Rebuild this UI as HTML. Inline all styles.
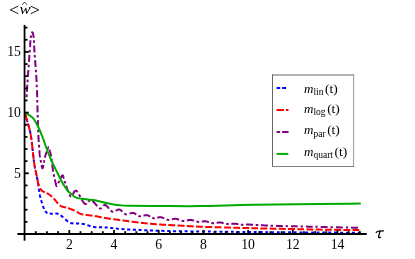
<!DOCTYPE html>
<html><head><meta charset="utf-8"><title>plot</title>
<style>
html,body{margin:0;padding:0;background:#fff;}
svg{display:block;font-family:"Liberation Serif",serif;will-change:transform;}
</style></head><body>
<svg width="415" height="259" viewBox="0 0 415 259">
<rect width="415" height="259" fill="#fff"/>
<g fill="none" stroke-width="2" stroke-linejoin="round">
<path d="M25.10,113.60 L25.10,113.62 L25.11,113.62 L25.11,113.62 L25.11,113.62 L25.10,113.60 L25.10,113.59 L25.09,113.57 L25.09,113.54 L25.08,113.52 L25.07,113.49 L25.06,113.46 L25.06,113.44 L25.05,113.41 L25.05,113.39 L25.04,113.38 L25.04,113.37 L25.04,113.36 L25.04,113.36 L25.04,113.37 L25.05,113.39 L25.06,113.42 L25.07,113.46 L25.08,113.52 L25.10,113.58 L25.12,113.66 L25.15,113.76 L25.18,113.87 L25.22,113.99 L25.26,114.14 L25.30,114.30 L25.36,114.49 L25.41,114.69 L25.48,114.92 L25.55,115.17 L25.63,115.45 L25.71,115.75 L25.81,116.08 L25.86,116.26M26.60,118.81 L26.74,119.28 L26.88,119.77 L27.02,120.26 L27.17,120.76 L27.31,121.27 L27.46,121.79 L27.51,121.96M28.23,124.49 L28.38,125.01 L28.52,125.52 L28.66,126.03 L28.80,126.53 L28.93,127.02 L29.06,127.50 L29.10,127.66M29.74,130.19 L29.83,130.54 L29.91,130.88 L29.99,131.20 L30.06,131.51 L30.13,131.80 L30.19,132.08 L30.25,132.35 L30.31,132.61 L30.37,132.87 L30.42,133.11 L30.47,133.35 L30.49,133.43M30.94,135.99 L30.98,136.28 L31.03,136.57 L31.07,136.88 L31.12,137.20 L31.17,137.54 L31.22,137.90 L31.27,138.27 L31.32,138.67 L31.38,139.09 L31.40,139.24M31.74,141.87 L31.81,142.47 L31.88,143.10 L31.96,143.75 L32.03,144.41 L32.11,145.10M32.40,147.74 L32.48,148.48 L32.57,149.23 L32.65,149.99 L32.73,150.75 L32.76,151.00M33.04,153.63 L33.12,154.37 L33.20,155.10 L33.28,155.82 L33.35,156.52 L33.39,156.86M33.68,159.44 L33.75,160.03 L33.82,160.59 L33.89,161.12 L33.95,161.61 L34.01,162.07 L34.07,162.51 L34.10,162.71M34.50,165.33 L34.54,165.57 L34.59,165.79 L34.63,166.01 L34.67,166.21 L34.71,166.41 L34.75,166.60 L34.79,166.78 L34.83,166.96 L34.87,167.13 L34.91,167.30 L34.94,167.47 L34.98,167.64 L35.02,167.81 L35.07,167.98 L35.11,168.16 L35.15,168.34 L35.19,168.53 L35.20,168.56M35.72,171.11 L35.78,171.39 L35.84,171.68 L35.90,171.97 L35.96,172.26 L36.02,172.56 L36.08,172.85 L36.14,173.15 L36.20,173.45 L36.27,173.75 L36.33,174.06 L36.39,174.36M36.91,176.89 L36.97,177.20 L37.03,177.50 L37.09,177.81 L37.15,178.12 L37.21,178.43 L37.27,178.74 L37.33,179.04 L37.38,179.35 L37.44,179.65 L37.49,179.95 L37.53,180.15M37.94,182.73 L37.99,183.04 L38.03,183.36 L38.08,183.67 L38.12,183.99 L38.17,184.30 L38.21,184.61 L38.26,184.93 L38.30,185.24 L38.34,185.55 L38.39,185.86 L38.41,186.01M38.78,188.57 L38.82,188.85 L38.86,189.12 L38.90,189.39 L38.94,189.66 L38.99,189.91 L39.03,190.17 L39.07,190.42 L39.11,190.67 L39.15,190.92 L39.19,191.16 L39.23,191.40 L39.27,191.64 L39.31,191.87M39.77,194.40 L39.81,194.61 L39.85,194.80 L39.89,195.00 L39.92,195.19 L39.96,195.38 L40.00,195.57 L40.04,195.76 L40.07,195.94 L40.11,196.12 L40.15,196.30 L40.19,196.48 L40.22,196.66 L40.26,196.83 L40.30,197.00 L40.34,197.16 L40.37,197.32 L40.40,197.47 L40.43,197.61 L40.44,197.65M41.09,200.09 L41.14,200.24 L41.19,200.40 L41.25,200.56 L41.31,200.74 L41.37,200.93 L41.44,201.13 L41.51,201.34 L41.59,201.56 L41.67,201.80 L41.75,202.06 L41.84,202.33 L41.93,202.61 L42.03,202.91 L42.12,203.21M42.93,205.72 L43.04,206.07 L43.16,206.42 L43.28,206.77 L43.40,207.12 L43.53,207.47 L43.65,207.81 L43.78,208.14 L43.90,208.47 L44.03,208.79M45.17,211.11 L45.30,211.30 L45.43,211.48 L45.56,211.65 L45.70,211.80 L45.83,211.95 L45.96,212.08 L46.09,212.21 L46.23,212.32 L46.36,212.43 L46.50,212.53 L46.63,212.62 L46.77,212.71 L46.91,212.78 L47.05,212.85 L47.19,212.92 L47.33,212.98 L47.47,213.03 L47.52,213.05M49.75,213.50 L49.93,213.53 L50.11,213.56 L50.30,213.60 L50.49,213.63 L50.69,213.66 L50.89,213.69 L51.10,213.70 L51.31,213.72 L51.53,213.72 L51.75,213.73 L51.98,213.73 L52.21,213.73 L52.44,213.72 L52.68,213.71 L52.80,213.71M55.34,213.59 L55.58,213.59 L55.81,213.59 L56.04,213.59 L56.27,213.59 L56.49,213.61 L56.71,213.62 L56.93,213.64 L57.14,213.67 L57.34,213.70 L57.54,213.74 L57.74,213.78 L57.92,213.83 L58.11,213.89 L58.28,213.95 L58.46,214.01 L58.49,214.03M60.64,215.27 L60.77,215.38 L60.91,215.48 L61.05,215.59 L61.19,215.70 L61.33,215.81 L61.46,215.92 L61.60,216.04 L61.74,216.15 L61.88,216.27 L62.02,216.38 L62.16,216.50 L62.31,216.61 L62.45,216.73 L62.60,216.85 L62.75,216.96 L62.90,217.08 L63.06,217.20 L63.21,217.32 L63.29,217.39M65.33,219.22 L65.50,219.37 L65.66,219.52 L65.82,219.67 L65.97,219.81 L66.13,219.96 L66.28,220.10 L66.44,220.25 L66.59,220.38 L66.74,220.52 L66.89,220.65 L67.03,220.78 L67.17,220.90 L67.31,221.02 L67.45,221.14 L67.58,221.25 L67.71,221.35 L67.84,221.45 L67.96,221.55 L67.98,221.56M70.22,223.06 L70.39,223.09 L70.58,223.13 L70.78,223.16 L71.00,223.20 L71.24,223.24 L71.49,223.27 L71.76,223.30 L72.05,223.32 L72.35,223.35 L72.66,223.37 L72.99,223.39 L73.33,223.41 L73.56,223.42M76.02,223.50 L76.42,223.51 L76.82,223.53 L77.23,223.54 L77.64,223.55 L78.05,223.57 L78.47,223.58 L78.88,223.60 L79.15,223.62M81.74,223.81 L82.12,223.85 L82.49,223.90 L82.85,223.95 L83.20,224.00 L83.54,224.06 L83.88,224.13 L84.22,224.20 L84.55,224.27 L84.88,224.35 L84.94,224.37M87.39,225.11 L87.70,225.21 L88.01,225.32 L88.33,225.43 L88.64,225.54 L88.95,225.64 L89.27,225.75 L89.58,225.86 L89.89,225.96 L90.21,226.06 L90.53,226.16 L90.58,226.18M93.14,226.85 L93.48,226.91 L93.83,226.97 L94.17,227.03 L94.52,227.07 L94.87,227.11 L95.21,227.15 L95.55,227.18 L95.89,227.21 L96.24,227.24 L96.41,227.25M99.00,227.33 L99.36,227.33 L99.72,227.33 L100.07,227.33 L100.44,227.33 L100.80,227.33 L101.17,227.33 L101.55,227.34 L101.93,227.34 L102.18,227.34M104.66,227.40 L105.08,227.42 L105.52,227.44 L105.95,227.47 L106.40,227.50 L106.85,227.53 L107.29,227.57 L107.72,227.61M110.22,227.87 L110.65,227.92 L111.08,227.97 L111.52,228.02 L111.96,228.07 L112.41,228.13 L112.86,228.18 L113.33,228.23M115.82,228.52 L116.36,228.57 L116.92,228.63 L117.49,228.69 L118.08,228.74 L118.69,228.80 L118.90,228.82M121.47,229.03 L122.20,229.08 L122.95,229.13 L123.73,229.18 L124.54,229.23M127.14,229.39 L128.05,229.44 L128.99,229.49 L129.96,229.54 L130.28,229.56M132.80,229.69 L133.84,229.74 L134.90,229.79 L135.98,229.85M138.54,229.97 L139.66,230.02 L140.79,230.07 L141.55,230.10M144.24,230.22 L145.40,230.27 L146.57,230.32 L147.35,230.35M149.90,230.45 L151.07,230.50 L152.25,230.54 L153.03,230.57M155.57,230.66 L156.74,230.70 L157.90,230.73 L158.66,230.76M161.31,230.84 L162.42,230.87 L163.50,230.90 L164.57,230.93M167.18,231.00 L168.21,231.02 L169.24,231.05 L170.26,231.07M173.00,231.13 L174.03,231.14 L175.08,231.16 L176.13,231.18M178.84,231.23 L179.96,231.24 L181.10,231.26 L181.87,231.27M184.68,231.31 L185.93,231.33 L187.23,231.34 L187.67,231.35M190.39,231.38 L191.82,231.40 L193.30,231.42 L193.55,231.42M196.13,231.45 L197.75,231.47 L199.14,231.49M202.05,231.52 L203.88,231.55 L205.13,231.56M208.03,231.59 L210.02,231.61 L210.70,231.62M213.81,231.65 L215.93,231.68 L216.65,231.68M219.56,231.71 L221.78,231.73 L222.53,231.74M225.18,231.77 L227.48,231.79 L228.25,231.80M230.98,231.82 L233.33,231.84 L233.73,231.85M236.90,231.88 L239.30,231.90 L239.70,231.90M242.51,231.93 L244.93,231.95 L245.34,231.95M248.16,231.98 L250.59,232.00 L250.99,232.00M253.82,232.03 L256.23,232.05 L256.64,232.05M259.44,232.07 L261.83,232.09 L262.62,232.10M265.39,232.12 L267.73,232.14 L268.12,232.14M271.21,232.17 L273.49,232.19 L273.87,232.19M276.89,232.21 L279.22,232.23 L279.61,232.24M282.39,232.26 L284.82,232.27 L285.23,232.28M288.12,232.30 L290.62,232.32 L291.04,232.32M294.00,232.34 L296.56,232.36M299.55,232.38 L302.13,232.39 L302.56,232.40M305.13,232.41 L307.70,232.43 L308.13,232.43M311.11,232.45 L313.65,232.47 L314.07,232.47M316.57,232.49 L319.05,232.50 L319.46,232.51M322.30,232.52 L324.69,232.54 L325.48,232.54M328.19,232.56 L330.45,232.57 L331.19,232.58M334.09,232.60 L336.18,232.61 L337.20,232.62M340.13,232.63 L341.98,232.65 L343.17,232.65M345.94,232.67 L347.48,232.68 L348.90,232.69 L349.13,232.69M351.79,232.71 L352.85,232.72 L353.82,232.73 L354.69,232.73 L354.96,232.74M357.68,232.76 L358.11,232.76 L358.48,232.77 L358.79,232.77 L359.05,232.77 L359.25,232.78 L359.42,232.78 L359.54,232.78 L359.63,232.78 L359.68,232.78 L359.71,232.79 L359.71,232.79 L359.70,232.79 L359.68,232.79 L359.64,232.79 L359.60,232.79 L359.56,232.79 L359.53,232.79 L359.50,232.79 L359.49,232.79 L359.49,232.80 L359.52,232.80 L359.57,232.80 L359.66,232.80 L359.78,232.80 L359.80,232.80" stroke="#0000ff"/>
<path d="M25.18,113.85 L25.21,113.97 L25.25,114.11 L25.30,114.27 L25.35,114.45 L25.40,114.66 L25.47,114.88 L25.54,115.13 L25.61,115.40 L25.70,115.70 L25.79,116.03 L25.89,116.38 L26.00,116.75 L26.12,117.14 L26.24,117.55 L26.36,117.98 L26.49,118.43 L26.62,118.89 L26.76,119.36 L26.90,119.85 L27.05,120.34 L27.19,120.85 L27.22,120.93M27.91,123.36 L28.06,123.88 L28.21,124.40 L28.35,124.92 L28.50,125.44 L28.64,125.95 L28.78,126.45 L28.91,126.94 L29.04,127.42 L29.16,127.89 L29.28,128.35 L29.40,128.79 L29.51,129.21 L29.61,129.61 L29.70,130.00 L29.79,130.37 L29.86,130.66M30.39,132.99 L30.45,133.23 L30.50,133.47 L30.54,133.71 L30.59,133.94 L30.63,134.17 L30.68,134.41 L30.72,134.64 L30.76,134.88 L30.80,135.13 L30.84,135.38 L30.89,135.63 L30.93,135.90 L30.97,136.18 L31.01,136.47 L31.06,136.77 L31.10,137.09 L31.15,137.43 L31.20,137.78 L31.25,138.15 L31.30,138.54 L31.36,138.95 L31.42,139.38 L31.48,139.84 L31.52,140.16M31.81,142.47 L31.88,143.10 L31.96,143.75 L32.03,144.41 L32.11,145.10 L32.19,145.80 L32.27,146.52 L32.35,147.25 L32.43,147.99 L32.51,148.73 L32.59,149.49 L32.61,149.61M32.88,152.13 L32.96,152.89 L33.04,153.63 L33.12,154.37 L33.20,155.10 L33.28,155.82 L33.35,156.52 L33.43,157.20 L33.50,157.87 L33.58,158.52 L33.65,159.14M33.90,161.20 L33.96,161.69 L34.02,162.15 L34.08,162.57 L34.13,162.97 L34.18,163.34 L34.23,163.69 L34.28,164.01 L34.33,164.31 L34.37,164.59 L34.41,164.85 L34.45,165.09 L34.49,165.32 L34.53,165.54 L34.57,165.74 L34.60,165.93 L34.64,166.11 L34.68,166.29 L34.71,166.46 L34.75,166.62 L34.79,166.78 L34.82,166.95 L34.86,167.11 L34.90,167.27 L34.94,167.44 L34.97,167.59M35.43,169.63 L35.49,169.95 L35.56,170.28 L35.63,170.63 L35.70,170.99 L35.77,171.37 L35.85,171.77 L35.93,172.17 L36.01,172.59 L36.09,173.02 L36.18,173.45 L36.27,173.89 L36.35,174.34 L36.44,174.80 L36.53,175.26 L36.62,175.72 L36.72,176.19 L36.81,176.66M37.33,179.19 L37.42,179.63 L37.52,180.07 L37.61,180.50 L37.70,180.92 L37.79,181.33 L37.88,181.73 L37.97,182.11 L38.06,182.48 L38.15,182.84 L38.23,183.18 L38.32,183.50 L38.40,183.80 L38.48,184.09 L38.56,184.36 L38.64,184.63 L38.72,184.89 L38.80,185.13 L38.88,185.37 L38.96,185.60 L39.04,185.81 L39.12,186.03 L39.20,186.23M40.12,188.18 L40.19,188.31 L40.27,188.44 L40.34,188.56 L40.41,188.68 L40.48,188.80 L40.55,188.91 L40.62,189.03 L40.69,189.14 L40.76,189.26 L40.82,189.37 L40.89,189.48 L40.95,189.59 L41.01,189.69 L41.07,189.79 L41.12,189.88 L41.17,189.96 L41.21,190.03 L41.26,190.10 L41.30,190.16 L41.34,190.22 L41.37,190.28 L41.41,190.33 L41.44,190.37 L41.48,190.42 L41.51,190.46 L41.55,190.50 L41.59,190.53 L41.63,190.57 L41.67,190.60 L41.71,190.64 L41.75,190.67 L41.80,190.70 L41.85,190.73 L41.90,190.77 L41.96,190.81 L42.03,190.84 L42.09,190.88 L42.17,190.93 L42.25,190.97 L42.33,191.02 L42.42,191.08 L42.52,191.13 L42.63,191.20 L42.74,191.26 L42.86,191.34 L42.99,191.41 L43.13,191.49 L43.28,191.56 L43.43,191.64 L43.59,191.72 L43.76,191.80 L43.93,191.88 L44.11,191.97 L44.29,192.05 L44.48,192.14 L44.67,192.22 L44.83,192.30M46.64,193.12 L46.85,193.22 L47.06,193.32 L47.26,193.42 L47.47,193.52 L47.67,193.62 L47.87,193.73 L48.06,193.83 L48.25,193.94 L48.44,194.05 L48.62,194.16 L48.80,194.27 L48.97,194.38 L49.14,194.49 L49.30,194.61 L49.46,194.72 L49.62,194.83 L49.78,194.95 L49.93,195.06 L50.08,195.18 L50.23,195.29 L50.38,195.41 L50.52,195.53 L50.67,195.64 L50.81,195.76 L50.95,195.89 L51.09,196.01 L51.24,196.13 L51.38,196.26 L51.52,196.38 L51.66,196.51 L51.80,196.64 L51.94,196.78 L52.04,196.86M53.64,198.44 L53.80,198.60 L53.97,198.77 L54.14,198.94 L54.31,199.12 L54.48,199.31 L54.66,199.51 L54.83,199.71 L55.01,199.92 L55.19,200.13 L55.36,200.35 L55.54,200.57 L55.72,200.79 L55.90,201.02 L56.09,201.25 L56.27,201.48 L56.46,201.72 L56.64,201.95 L56.83,202.19 L57.02,202.42 L57.21,202.65 L57.40,202.88 L57.59,203.11 L57.79,203.34 L57.98,203.56 L58.11,203.71M59.71,205.27 L59.92,205.43 L60.13,205.58 L60.33,205.72 L60.54,205.86 L60.76,205.98 L60.97,206.09 L61.19,206.20 L61.41,206.30 L61.63,206.40 L61.85,206.49 L62.07,206.57 L62.30,206.65 L62.53,206.72 L62.75,206.79 L62.98,206.85 L63.21,206.91 L63.44,206.96 L63.68,207.02 L63.91,207.07 L64.14,207.12 L64.38,207.17 L64.61,207.21 L64.84,207.26 L65.08,207.30 L65.31,207.35 L65.55,207.40 L65.78,207.44 L66.02,207.49M68.09,208.07 L68.32,208.15 L68.55,208.23 L68.77,208.31 L69.00,208.40 L69.23,208.48 L69.47,208.57 L69.70,208.65 L69.93,208.74 L70.16,208.83 L70.39,208.92 L70.62,209.01 L70.85,209.09 L71.09,209.19 L71.32,209.28 L71.55,209.37 L71.78,209.46 L72.00,209.55 L72.23,209.64 L72.46,209.74 L72.69,209.83 L72.91,209.92 L73.14,210.02 L73.36,210.11 L73.58,210.20 L73.80,210.30 L74.02,210.39 L74.24,210.49 L74.45,210.58 L74.67,210.67M76.82,211.77 L76.98,211.87 L77.13,211.98 L77.29,212.08 L77.45,212.18 L77.60,212.29 L77.75,212.39 L77.91,212.49 L78.06,212.60 L78.22,212.70 L78.38,212.80 L78.54,212.90 L78.71,213.00 L78.88,213.10 L79.05,213.20 L79.23,213.30 L79.42,213.39 L79.61,213.49 L79.81,213.58 L80.02,213.67 L80.24,213.76 L80.46,213.84 L80.69,213.93 L80.94,214.01 L81.20,214.09 L81.46,214.16 L81.74,214.24 L82.03,214.31 L82.33,214.37 L82.64,214.44 L82.96,214.50 L83.29,214.56 L83.34,214.57M85.61,214.90 L85.99,214.94 L86.37,214.99 L86.76,215.03 L87.15,215.08 L87.54,215.12 L87.94,215.16 L88.34,215.21 L88.74,215.25 L89.14,215.29 L89.55,215.33 L89.95,215.38 L90.35,215.42 L90.75,215.47 L91.15,215.51 L91.55,215.56 L91.95,215.61 L92.34,215.66 L92.47,215.68M94.74,216.02 L95.11,216.09 L95.48,216.15 L95.85,216.22 L96.21,216.28 L96.58,216.35 L96.94,216.42 L97.31,216.49 L97.67,216.56 L98.04,216.63 L98.40,216.70 L98.77,216.77 L99.13,216.84 L99.50,216.92 L99.86,216.99 L100.23,217.06 L100.60,217.13 L100.96,217.21 L101.33,217.28 L101.70,217.35M103.95,217.78 L104.33,217.85 L104.71,217.92 L105.10,217.98 L105.49,218.05 L105.88,218.11 L106.27,218.18 L106.66,218.24 L107.06,218.30 L107.45,218.36 L107.84,218.42 L108.23,218.48 L108.61,218.54 L109.00,218.60 L109.39,218.65 L109.78,218.71 L110.17,218.76 L110.56,218.82 L110.95,218.87 L111.02,218.88M113.27,219.18 L113.68,219.24 L114.09,219.29 L114.51,219.34 L114.93,219.40 L115.35,219.45 L115.78,219.51 L116.21,219.56 L116.65,219.62 L117.10,219.68 L117.54,219.74 L118.00,219.80 L118.46,219.86 L118.93,219.92 L119.41,219.98 L119.89,220.05 L120.22,220.09M122.52,220.40 L123.05,220.47 L123.59,220.55 L124.13,220.62 L124.68,220.70 L125.24,220.78 L125.80,220.85 L126.37,220.93 L126.94,221.01 L127.52,221.09 L128.10,221.17 L128.68,221.25 L129.27,221.33 L129.36,221.34M131.63,221.65 L132.23,221.73 L132.82,221.80 L133.42,221.88 L134.01,221.96 L134.61,222.04 L135.20,222.11 L135.79,222.18 L136.38,222.26 L136.97,222.33 L137.56,222.40 L138.14,222.47 L138.53,222.51M140.83,222.77 L141.41,222.83 L141.99,222.89 L142.56,222.96 L143.14,223.02 L143.72,223.08 L144.29,223.14 L144.87,223.19 L145.45,223.25 L146.03,223.31 L146.61,223.37 L147.19,223.42 L147.67,223.47M149.99,223.69 L150.57,223.74 L151.15,223.79 L151.73,223.84 L152.31,223.89 L152.89,223.94 L153.47,223.99 L154.05,224.04 L154.63,224.09 L155.21,224.14 L155.79,224.18 L156.37,224.23 L156.86,224.27M159.18,224.44 L159.76,224.48 L160.33,224.52 L160.91,224.56 L161.48,224.60 L162.05,224.64 L162.62,224.68 L163.19,224.71 L163.76,224.74 L164.33,224.78 L164.90,224.81 L165.47,224.84 L166.04,224.88M168.32,225.00 L168.90,225.03 L169.47,225.06 L170.05,225.09 L170.63,225.12 L171.21,225.15 L171.79,225.17 L172.38,225.20 L172.96,225.23 L173.56,225.26 L174.15,225.30 L174.75,225.33 L175.25,225.35M177.59,225.48 L178.21,225.51 L178.82,225.55 L179.42,225.58 L180.01,225.62 L180.60,225.65 L181.18,225.69 L181.75,225.72 L182.33,225.76 L182.90,225.79 L183.46,225.83 L184.03,225.86 L184.51,225.89M186.82,226.04 L187.41,226.08 L188.01,226.11 L188.63,226.15 L189.25,226.18 L189.89,226.22 L190.54,226.26 L191.20,226.29 L191.88,226.33 L192.58,226.37 L193.29,226.40 L193.66,226.42M195.97,226.53 L196.78,226.57 L197.62,226.60 L198.49,226.64 L199.39,226.68 L200.31,226.71 L201.27,226.75 L202.27,226.78 L202.78,226.80M205.25,226.89 L206.36,226.93 L207.50,226.97 L208.66,227.00 L209.84,227.04 L211.04,227.08 L212.25,227.12M214.53,227.19 L215.78,227.22 L217.05,227.26 L218.33,227.30 L219.62,227.34 L220.91,227.37 L221.55,227.39M224.14,227.47 L225.44,227.50 L226.73,227.54 L228.01,227.58 L229.29,227.61 L230.56,227.65 L230.98,227.66M233.28,227.72 L234.51,227.75 L235.72,227.79 L236.92,227.82 L238.09,227.85 L239.24,227.88 L240.00,227.90M242.40,227.96 L243.48,227.99 L244.55,228.02 L245.60,228.05 L246.64,228.07 L247.67,228.10 L248.70,228.12 L249.21,228.13M251.39,228.19 L252.39,228.21 L253.38,228.23 L254.38,228.26 L255.37,228.28 L256.36,228.30 L257.35,228.32 L258.02,228.34M260.35,228.39 L261.36,228.41 L262.38,228.43 L263.41,228.45 L264.44,228.48 L265.49,228.50 L266.55,228.52 L267.26,228.54M269.62,228.59 L270.74,228.61 L271.88,228.63 L273.03,228.66 L274.20,228.68 L275.40,228.71 L276.42,228.73M278.73,228.78 L280.03,228.81 L281.35,228.83 L282.69,228.86 L284.06,228.89 L285.44,228.92 L285.67,228.92M288.00,228.97 L289.42,229.00 L290.85,229.03 L292.28,229.06 L293.72,229.09 L294.92,229.12M297.33,229.17 L298.77,229.19 L300.21,229.22 L301.65,229.25 L303.07,229.28 L304.02,229.30M306.59,229.35 L307.98,229.38 L309.34,229.40 L310.69,229.43 L312.02,229.45 L313.32,229.48M315.65,229.52 L316.88,229.54 L318.08,229.57 L319.24,229.59 L320.37,229.61 L321.49,229.63 L322.60,229.64M324.97,229.68 L326.05,229.70 L327.11,229.71 L328.17,229.73 L329.21,229.74 L330.24,229.76 L331.26,229.77 L331.77,229.78M334.07,229.81 L335.04,229.82 L335.99,229.83 L336.92,229.85 L337.84,229.86 L338.74,229.87 L339.63,229.88 L340.50,229.89 L341.07,229.90M343.39,229.92 L344.18,229.93 L344.94,229.94 L345.69,229.95 L346.41,229.96 L347.11,229.97 L347.79,229.97 L348.45,229.98 L349.09,229.99 L349.70,230.00 L350.29,230.00 L350.39,230.00M352.61,230.03 L353.05,230.04 L353.47,230.04 L353.87,230.05 L354.25,230.05 L354.60,230.06 L354.94,230.06 L355.26,230.06 L355.56,230.07 L355.84,230.07 L356.11,230.07 L356.36,230.07 L356.60,230.08 L356.83,230.08 L357.04,230.08 L357.24,230.08 L357.43,230.08 L357.62,230.08 L357.79,230.09 L357.96,230.09 L358.11,230.09 L358.27,230.09 L358.42,230.09 L358.56,230.09 L358.70,230.09 L358.84,230.10 L358.98,230.10 L359.12,230.10 L359.25,230.10 L359.30,230.10" stroke="#ff0000"/>
<path d="M26.63,97.10 L26.64,96.83 L26.66,96.54 L26.67,96.24 L26.69,95.93 L26.71,95.60 L26.73,95.25 L26.74,94.89 L26.76,94.52 L26.77,94.46M26.91,91.75 L26.93,91.28 L26.96,90.79 L26.99,90.28 L27.02,89.77 L27.05,89.24 L27.08,88.69 L27.11,88.14 L27.15,87.57 L27.18,86.99 L27.22,86.39 L27.25,85.78 L27.29,85.17 L27.32,84.75M27.48,82.23 L27.53,81.53 L27.58,80.80 L27.64,80.03 L27.66,79.64M27.86,76.93 L27.92,76.02 L27.99,75.09 L28.06,74.14 L28.13,73.17 L28.21,72.18 L28.28,71.18 L28.35,70.17 L28.37,70.00M28.57,67.29 L28.64,66.26 L28.72,65.25 L28.76,64.74M28.97,61.91 L29.04,60.93 L29.11,59.97 L29.18,59.03 L29.25,58.12 L29.32,57.22 L29.38,56.36 L29.44,55.53 L29.49,54.85M29.68,52.32 L29.72,51.69 L29.76,51.08 L29.80,50.51 L29.84,49.95 L29.86,49.77M30.03,47.08 L30.06,46.67 L30.08,46.27 L30.10,45.89 L30.12,45.53 L30.15,45.18 L30.17,44.84 L30.18,44.52 L30.20,44.20 L30.22,43.90 L30.24,43.60 L30.26,43.32 L30.27,43.04 L30.29,42.77 L30.31,42.50 L30.32,42.24 L30.34,41.99 L30.36,41.73 L30.38,41.48 L30.40,41.23 L30.42,40.98 L30.44,40.73 L30.46,40.47 L30.48,40.26M30.73,37.89 L30.75,37.71 L30.77,37.53 L30.80,37.36 L30.82,37.19 L30.84,37.03 L30.87,36.87 L30.89,36.72 L30.91,36.57 L30.94,36.43 L30.96,36.29 L30.98,36.15 L31.01,36.02 L31.03,35.89 L31.06,35.76 L31.08,35.64 L31.11,35.52 L31.12,35.46M31.70,33.08 L31.72,33.01 L31.75,32.93 L31.78,32.86 L31.81,32.79 L31.83,32.73 L31.86,32.67 L31.89,32.61 L31.91,32.56 L31.94,32.52 L31.97,32.47 L32.00,32.43 L32.03,32.40 L32.05,32.37 L32.08,32.35 L32.11,32.33 L32.14,32.31 L32.17,32.30 L32.20,32.30 L32.22,32.30 L32.25,32.31 L32.28,32.32 L32.31,32.34 L32.34,32.36 L32.37,32.39 L32.40,32.42 L32.43,32.46 L32.47,32.50 L32.50,32.55 L32.53,32.60 L32.56,32.65 L32.59,32.71 L32.62,32.77 L32.65,32.84 L32.69,32.91 L32.72,32.98 L32.75,33.06 L32.78,33.14 L32.81,33.22 L32.84,33.31 L32.87,33.40 L32.90,33.49 L32.93,33.59 L32.96,33.68 L32.99,33.78 L33.02,33.89 L33.05,33.99 L33.08,34.10 L33.11,34.21 L33.13,34.32 L33.16,34.43 L33.19,34.54 L33.21,34.66 L33.24,34.77 L33.26,34.89 L33.29,35.00 L33.31,35.12 L33.33,35.24 L33.36,35.36 L33.38,35.48 L33.40,35.60 L33.42,35.72 L33.45,35.85 L33.47,35.98 L33.49,36.11 L33.51,36.24 L33.53,36.38 L33.55,36.52 L33.57,36.67 L33.59,36.82 L33.61,36.97 L33.63,37.13 L33.65,37.30 L33.67,37.47 L33.69,37.65 L33.71,37.83M33.92,40.30 L33.94,40.56 L33.95,40.81 L33.97,41.06 L33.98,41.31 L34.00,41.56 L34.01,41.82 L34.02,42.07 L34.03,42.33 L34.04,42.59 L34.05,42.86M34.15,45.47 L34.17,45.83 L34.18,46.21 L34.20,46.60 L34.22,47.01 L34.24,47.43 L34.26,47.88 L34.29,48.34 L34.31,48.83 L34.34,49.33 L34.37,49.86 L34.40,50.41 L34.44,50.99 L34.47,51.59 L34.51,52.21 L34.53,52.43M34.71,55.01 L34.76,55.78 L34.82,56.58 L34.88,57.40 L34.89,57.53M35.09,60.12 L35.16,61.02 L35.23,61.93 L35.30,62.86 L35.37,63.80 L35.44,64.75 L35.51,65.71 L35.59,66.68 L35.62,67.17M35.82,69.79 L35.89,70.78 L35.96,71.77 L35.99,72.27M36.17,74.90 L36.24,75.87 L36.30,76.85 L36.36,77.81 L36.42,78.76 L36.47,79.70 L36.53,80.63 L36.58,81.55 L36.60,82.00M36.73,84.72 L36.77,85.64 L36.81,86.56 L36.84,87.33M36.95,90.10 L36.98,91.03 L37.01,91.96 L37.04,92.89 L37.07,93.82 L37.10,94.75 L37.13,95.68 L37.16,96.61 L37.18,97.22M37.25,99.98 L37.28,100.89 L37.30,101.79 L37.32,102.54M37.40,105.36 L37.43,106.24 L37.45,107.11 L37.48,107.97 L37.50,108.82 L37.53,109.66 L37.55,110.50 L37.58,111.32 L37.60,112.13 L37.61,112.40M37.70,114.97 L37.72,115.77 L37.75,116.58 L37.77,117.38 L37.78,117.51M37.86,120.15 L37.88,120.93 L37.91,121.71 L37.93,122.48 L37.95,123.24 L37.98,124.00 L38.00,124.75 L38.02,125.50 L38.05,126.23 L38.07,126.95 L38.07,127.07M38.16,129.64 L38.18,130.32 L38.20,130.98 L38.23,131.64 L38.25,132.28M38.35,134.89 L38.38,135.45 L38.40,136.00 L38.42,136.53 L38.45,137.04 L38.47,137.54 L38.50,138.02 L38.52,138.48 L38.54,138.93 L38.57,139.36 L38.59,139.78 L38.62,140.18 L38.64,140.58 L38.66,140.96 L38.69,141.33 L38.71,141.69 L38.74,142.04 L38.74,142.10M38.94,144.75 L38.96,145.05 L38.99,145.34 L39.01,145.64 L39.04,145.93 L39.06,146.23 L39.08,146.53 L39.11,146.83 L39.13,147.13 L39.16,147.43 L39.16,147.53M39.37,150.29 L39.39,150.58 L39.42,150.88 L39.44,151.17 L39.46,151.45 L39.48,151.74 L39.50,152.02 L39.53,152.29 L39.55,152.57 L39.57,152.84 L39.59,153.11 L39.62,153.38 L39.64,153.64 L39.66,153.90 L39.69,154.16 L39.71,154.42 L39.73,154.67 L39.76,154.92 L39.78,155.17 L39.81,155.41 L39.84,155.65 L39.86,155.89 L39.89,156.13 L39.92,156.36 L39.95,156.59 L39.98,156.81 L40.01,157.04 L40.04,157.26 L40.07,157.47M40.52,159.90 L40.56,160.06 L40.59,160.23 L40.63,160.39 L40.67,160.55 L40.71,160.71 L40.74,160.87 L40.78,161.02 L40.82,161.18 L40.86,161.34 L40.90,161.50 L40.93,161.66 L40.97,161.82 L41.01,161.98 L41.05,162.14 L41.09,162.30 L41.12,162.44M41.61,164.97 L41.65,165.19 L41.69,165.40 L41.73,165.62 L41.77,165.84 L41.80,166.05 L41.84,166.26 L41.88,166.46 L41.92,166.66 L41.96,166.84 L42.00,167.03 L42.04,167.20 L42.08,167.36 L42.12,167.52 L42.16,167.66 L42.20,167.79 L42.24,167.91 L42.28,168.01 L42.32,168.10 L42.36,168.18 L42.40,168.23 L42.43,168.27 L42.47,168.30 L42.51,168.30 L42.55,168.28 L42.59,168.25 L42.63,168.19 L42.67,168.12 L42.71,168.04 L42.75,167.94 L42.79,167.82 L42.83,167.69 L42.87,167.55 L42.91,167.40 L42.95,167.24 L42.99,167.06 L43.03,166.88 L43.07,166.69 L43.12,166.50 L43.16,166.29 L43.20,166.09 L43.24,165.87 L43.28,165.66 L43.31,165.44 L43.35,165.22 L43.38,165.07M43.81,162.75 L43.84,162.58 L43.88,162.42 L43.91,162.26 L43.94,162.11 L43.97,161.95 L43.99,161.79 L44.02,161.63 L44.05,161.48 L44.07,161.32 L44.10,161.16 L44.12,161.01 L44.15,160.85 L44.17,160.69 L44.20,160.54 L44.22,160.38 L44.24,160.25M44.72,157.81 L44.76,157.64 L44.81,157.47 L44.85,157.30 L44.90,157.13 L44.95,156.96 L45.00,156.78 L45.06,156.60 L45.11,156.42 L45.17,156.24 L45.23,156.06 L45.29,155.88 L45.35,155.69 L45.41,155.51 L45.47,155.32 L45.54,155.14 L45.60,154.95 L45.66,154.77 L45.73,154.58 L45.80,154.39 L45.86,154.21 L45.93,154.03 L45.99,153.84 L46.06,153.66 L46.12,153.48 L46.19,153.30 L46.25,153.12 L46.32,152.95 L46.38,152.77 L46.44,152.60 L46.50,152.43 L46.56,152.27 L46.62,152.10 L46.68,151.94 L46.74,151.78 L46.79,151.63 L46.84,151.50M47.54,149.28 L47.59,149.13 L47.63,148.97 L47.68,148.83 L47.73,148.68 L47.78,148.54 L47.82,148.41 L47.87,148.28 L47.92,148.16 L47.96,148.04 L48.01,147.93 L48.05,147.83 L48.10,147.73 L48.14,147.64 L48.19,147.56 L48.23,147.49 L48.27,147.43 L48.32,147.38 L48.36,147.33 L48.40,147.30 L48.44,147.28 L48.48,147.26 L48.52,147.26 L48.56,147.26 L48.60,147.27 L48.64,147.29 L48.66,147.31M49.51,149.52 L49.55,149.65 L49.59,149.78 L49.63,149.91 L49.68,150.05 L49.72,150.19 L49.76,150.33 L49.81,150.48 L49.85,150.64 L49.89,150.79 L49.94,150.95 L49.99,151.12 L50.03,151.29 L50.08,151.46 L50.13,151.63 L50.17,151.81 L50.22,151.99 L50.27,152.18 L50.32,152.37 L50.36,152.56 L50.41,152.75 L50.46,152.95 L50.51,153.14 L50.55,153.34 L50.60,153.55 L50.65,153.75 L50.69,153.96 L50.74,154.17 L50.78,154.38 L50.83,154.59 L50.87,154.80 L50.92,155.02 L50.96,155.23 L51.00,155.45 L51.04,155.67 L51.08,155.89 L51.12,156.11 L51.16,156.34M51.53,158.98 L51.56,159.24 L51.60,159.50 L51.63,159.77 L51.66,160.04 L51.69,160.30 L51.72,160.57 L51.75,160.84 L51.78,161.11 L51.82,161.37 L51.85,161.64 L51.86,161.73M52.19,164.46 L52.23,164.70 L52.26,164.93 L52.29,165.16 L52.32,165.39 L52.35,165.62 L52.38,165.84 L52.41,166.06 L52.44,166.28 L52.47,166.49 L52.49,166.71 L52.52,166.92 L52.55,167.13 L52.58,167.35 L52.61,167.56 L52.63,167.77 L52.66,167.98 L52.69,168.19 L52.72,168.40 L52.75,168.62 L52.78,168.83 L52.81,169.05 L52.85,169.27 L52.88,169.49 L52.91,169.71 L52.95,169.93 L52.98,170.16 L53.02,170.39 L53.06,170.63 L53.10,170.87 L53.14,171.11 L53.19,171.36 L53.23,171.61 L53.25,171.70M53.72,174.20 L53.79,174.52 L53.85,174.84 L53.92,175.17 L53.99,175.50 L54.05,175.83 L54.12,176.16 L54.19,176.50 L54.25,176.78M54.80,179.36 L54.87,179.67 L54.94,179.96 L55.00,180.25 L55.06,180.53 L55.12,180.80 L55.18,181.06 L55.24,181.31 L55.30,181.55 L55.35,181.78 L55.40,182.00 L55.45,182.21 L55.50,182.41 L55.54,182.61 L55.58,182.80 L55.62,182.99 L55.67,183.17 L55.70,183.35 L55.74,183.52 L55.78,183.69 L55.81,183.85 L55.85,184.01 L55.88,184.16 L55.91,184.31 L55.95,184.45 L55.98,184.58 L56.01,184.71 L56.04,184.83 L56.07,184.95 L56.10,185.06 L56.13,185.17 L56.17,185.27 L56.20,185.37 L56.23,185.45 L56.26,185.54 L56.29,185.61 L56.33,185.68 L56.36,185.75 L56.40,185.80 L56.43,185.85 L56.47,185.90 L56.51,185.94 L56.55,185.97 L56.59,185.99 L56.63,186.01 L56.67,186.02 L56.71,186.02 L56.76,186.00 L56.80,185.98 L56.84,185.95 L56.88,185.92 L56.93,185.87 L56.97,185.82 L57.02,185.76M58.19,183.32 L58.25,183.21 L58.31,183.10 L58.37,182.98 L58.43,182.86 L58.49,182.73 L58.55,182.61 L58.61,182.48 L58.67,182.34 L58.74,182.21 L58.80,182.07 L58.87,181.93 L58.93,181.79 L59.00,181.65 L59.07,181.50 L59.13,181.36 L59.20,181.22 L59.27,181.07 L59.34,180.92 L59.40,180.78 L59.43,180.73M60.71,178.21 L60.78,178.07 L60.85,177.93 L60.92,177.78 L60.99,177.64 L61.06,177.49 L61.13,177.34 L61.20,177.19 L61.27,177.05 L61.34,176.90 L61.41,176.76 L61.49,176.63 L61.56,176.49 L61.63,176.36 L61.70,176.24 L61.77,176.12 L61.84,176.00 L61.91,175.90 L61.98,175.80 L62.05,175.71 L62.12,175.63 L62.18,175.56 L62.25,175.50 L62.32,175.45 L62.39,175.41 L62.45,175.38 L62.52,175.37 L62.58,175.36 L62.65,175.38 L62.71,175.41 L62.77,175.44 L62.83,175.49 L62.88,175.54 L62.93,175.60 L62.98,175.67 L63.02,175.75 L63.06,175.83 L63.10,175.93 L63.14,176.03 L63.18,176.13 L63.22,176.25 L63.25,176.38 L63.29,176.51 L63.33,176.65 L63.37,176.80 L63.40,176.96 L63.45,177.12 L63.49,177.30 L63.53,177.48 L63.58,177.67 L63.63,177.87 L63.68,178.08 L63.74,178.29 L63.80,178.52 L63.86,178.75M64.60,181.00 L64.72,181.33 L64.85,181.69 L64.98,182.09 L65.12,182.51 L65.27,182.96 L65.40,183.35M66.17,185.78 L66.35,186.34 L66.53,186.90 L66.71,187.47 L66.90,188.05 L67.09,188.62 L67.28,189.19 L67.47,189.76 L67.67,190.32 L67.86,190.87 L68.06,191.41 L68.26,191.94 L68.36,192.19M69.40,194.58 L69.59,194.94 L69.78,195.27 L69.96,195.56 L70.14,195.82 L70.32,196.03 L70.50,196.20 L70.67,196.32 L70.84,196.39 L71.01,196.41 L71.09,196.41M72.73,194.50 L72.89,194.20 L73.05,193.90 L73.21,193.59 L73.37,193.28 L73.53,192.98 L73.69,192.68 L73.86,192.39 L74.03,192.11 L74.20,191.85 L74.37,191.60 L74.55,191.38 L74.73,191.18 L74.91,191.01 L75.09,190.87 L75.29,190.77 L75.48,190.70 L75.68,190.67 L75.88,190.69 L76.09,190.75 L76.31,190.86 L76.53,191.02 L76.76,191.22 L76.99,191.47 L77.23,191.75 L77.48,192.06 L77.52,192.12M78.99,194.46 L79.26,194.94 L79.54,195.43 L79.81,195.94 L80.09,196.45 L80.36,196.97M81.70,199.43 L81.97,199.92 L82.25,200.39 L82.51,200.84 L82.78,201.28 L83.04,201.69 L83.30,202.07 L83.56,202.43 L83.81,202.75 L84.06,203.04 L84.30,203.29 L84.53,203.51 L84.76,203.68 L84.99,203.80 L85.20,203.89 L85.41,203.94 L85.62,203.96 L85.82,203.95 L86.02,203.90 L86.22,203.83 L86.41,203.74 L86.59,203.62 L86.69,203.55M88.34,201.76 L88.52,201.55 L88.70,201.34 L88.88,201.14 L89.06,200.95 L89.24,200.77 L89.43,200.60 L89.62,200.45 L89.81,200.32 L90.00,200.21 L90.20,200.13 L90.27,200.10M92.59,200.95 L92.85,201.19 L93.11,201.44 L93.38,201.70 L93.66,201.99 L93.93,202.28 L94.21,202.59 L94.49,202.91 L94.77,203.23 L95.05,203.57 L95.34,203.90 L95.62,204.24 L95.90,204.57 L96.18,204.91 L96.46,205.24 L96.74,205.57 L97.01,205.89 L97.29,206.20M99.16,207.99 L99.39,208.15 L99.61,208.27 L99.83,208.37 L100.04,208.44 L100.24,208.48 L100.43,208.49 L100.62,208.48 L100.80,208.44 L100.98,208.39 L101.15,208.31 L101.31,208.21 L101.47,208.10 L101.60,207.99M103.32,205.94 L103.46,205.77 L103.60,205.62 L103.75,205.48 L103.90,205.35 L104.05,205.24 L104.20,205.14 L104.36,205.06 L104.52,205.00 L104.69,204.97 L104.87,204.96 L105.05,204.97 L105.23,205.01 L105.42,205.08 L105.61,205.17 L105.81,205.28 L106.01,205.42 L106.21,205.57 L106.42,205.74 L106.63,205.93 L106.84,206.14 L107.05,206.36 L107.27,206.59 L107.48,206.83 L107.70,207.08 L107.92,207.34 L108.14,207.60 L108.36,207.87 L108.59,208.14 L108.81,208.41 L108.92,208.55M110.73,210.56 L110.95,210.77 L111.17,210.96 L111.39,211.14 L111.61,211.30 L111.83,211.44 L112.04,211.55 L112.26,211.65 L112.47,211.72 L112.68,211.77 L112.89,211.80 L113.10,211.81 L113.21,211.81M115.79,210.78 L116.00,210.66 L116.20,210.53 L116.41,210.41 L116.62,210.28 L116.82,210.16 L117.03,210.05 L117.23,209.94 L117.44,209.84 L117.64,209.75 L117.85,209.67 L118.05,209.60 L118.26,209.54 L118.46,209.50 L118.66,209.47 L118.86,209.46 L119.07,209.47 L119.27,209.49 L119.47,209.54 L119.67,209.60 L119.86,209.68 L120.06,209.77 L120.26,209.88 L120.45,210.00 L120.64,210.13 L120.84,210.28 L121.03,210.43 L121.22,210.59 L121.41,210.76 L121.60,210.94 L121.79,211.12 L121.98,211.31 L122.17,211.50 L122.33,211.66M124.28,213.50 L124.48,213.65 L124.68,213.79 L124.88,213.91 L125.08,214.02 L125.28,214.12 L125.49,214.20 L125.70,214.27 L125.90,214.32 L126.12,214.36 L126.33,214.38 L126.55,214.39 L126.76,214.39 L126.87,214.38M129.56,213.67 L129.79,213.59 L130.02,213.51 L130.25,213.43 L130.47,213.35 L130.70,213.27 L130.93,213.20 L131.15,213.13 L131.38,213.07 L131.60,213.01 L131.82,212.96 L132.04,212.93 L132.25,212.90 L132.47,212.88 L132.68,212.87 L132.89,212.87 L133.10,212.89 L133.30,212.92 L133.50,212.96 L133.70,213.01 L133.89,213.08 L134.09,213.15 L134.28,213.24 L134.46,213.33 L134.65,213.43 L134.83,213.54 L135.01,213.65 L135.19,213.77 L135.37,213.89 L135.55,214.02 L135.73,214.15 L135.91,214.29 L136.08,214.42 L136.26,214.56 L136.29,214.58M138.37,215.97 L138.57,216.06 L138.76,216.13 L138.96,216.20 L139.16,216.25 L139.37,216.29 L139.57,216.32 L139.78,216.34 L140.00,216.35 L140.22,216.35 L140.43,216.34 L140.66,216.32 L140.88,216.30 L140.96,216.29M143.52,215.67 L143.75,215.61 L143.99,215.54 L144.23,215.48 L144.46,215.43 L144.70,215.37 L144.93,215.32 L145.16,215.28 L145.39,215.24 L145.62,215.21 L145.85,215.18 L146.08,215.17 L146.30,215.16 L146.53,215.16 L146.75,215.17 L146.96,215.20 L147.18,215.23 L147.39,215.27 L147.61,215.33 L147.82,215.39 L148.03,215.46 L148.24,215.55 L148.44,215.63 L148.65,215.73 L148.86,215.83 L149.06,215.94 L149.27,216.05 L149.47,216.16 L149.67,216.28 L149.87,216.40 L150.08,216.52 L150.18,216.58M152.31,217.82 L152.51,217.91 L152.71,218.00 L152.92,218.07 L153.12,218.14 L153.32,218.20 L153.53,218.25 L153.73,218.29 L153.94,218.32 L154.14,218.34 L154.35,218.34 L154.55,218.34 L154.76,218.33 L154.79,218.33M157.27,217.75 L157.48,217.69 L157.69,217.63 L157.89,217.57 L158.10,217.51 L158.31,217.45 L158.51,217.40 L158.72,217.35 L158.93,217.31 L159.14,217.27 L159.35,217.23 L159.56,217.21 L159.77,217.19 L159.99,217.18 L160.20,217.17 L160.41,217.18 L160.63,217.19 L160.84,217.22 L161.06,217.25 L161.28,217.30 L161.50,217.35 L161.72,217.41 L161.94,217.48 L162.16,217.56 L162.39,217.64 L162.61,217.73 L162.83,217.82 L163.06,217.92 L163.28,218.02 L163.51,218.12 L163.74,218.22 L163.96,218.33 L164.19,218.44M166.58,219.50 L166.81,219.58 L167.04,219.65 L167.26,219.72 L167.49,219.78 L167.71,219.82 L167.94,219.87 L168.16,219.90 L168.39,219.92 L168.61,219.93 L168.83,219.93 L169.05,219.92 L169.27,219.91M171.95,219.35 L172.17,219.30 L172.39,219.24 L172.61,219.18 L172.83,219.12 L173.05,219.07 L173.27,219.02 L173.49,218.97 L173.72,218.93 L173.94,218.89 L174.16,218.85 L174.39,218.82 L174.61,218.80 L174.84,218.79 L175.07,218.78 L175.29,218.78 L175.52,218.79 L175.75,218.81 L175.98,218.84 L176.22,218.88 L176.45,218.92 L176.69,218.98 L176.92,219.03 L177.16,219.10 L177.40,219.17 L177.64,219.24 L177.88,219.32 L178.12,219.41 L178.36,219.49 L178.61,219.58 L178.85,219.67 L179.09,219.77 L179.13,219.78M181.58,220.69 L181.81,220.76 L182.05,220.83 L182.28,220.89 L182.51,220.95 L182.74,221.00 L182.97,221.04 L183.20,221.07 L183.43,221.09 L183.65,221.11 L183.87,221.12 L184.09,221.11 L184.27,221.11M186.89,220.55 L187.10,220.49 L187.30,220.43 L187.50,220.37 L187.71,220.31 L187.91,220.25 L188.11,220.20 L188.32,220.14 L188.53,220.09 L188.74,220.05 L188.95,220.01 L189.16,219.97 L189.37,219.94 L189.58,219.92 L189.80,219.90 L190.02,219.89 L190.24,219.89 L190.46,219.90 L190.69,219.91 L190.92,219.94 L191.15,219.96 L191.38,220.00 L191.62,220.04 L191.85,220.09 L192.09,220.15 L192.33,220.20 L192.58,220.27 L192.82,220.34 L193.07,220.41 L193.31,220.48 L193.56,220.56 L193.80,220.63 L194.01,220.70M196.47,221.49 L196.71,221.55 L196.95,221.62 L197.19,221.67 L197.43,221.73 L197.66,221.78 L197.89,221.82 L198.12,221.85 L198.35,221.88 L198.57,221.91 L198.80,221.92 L199.01,221.93 L199.16,221.93M201.81,221.64 L202.01,221.60 L202.21,221.56 L202.41,221.53 L202.61,221.49 L202.81,221.46 L203.01,221.42 L203.21,221.39 L203.41,221.36 L203.62,221.34 L203.82,221.32 L204.03,221.30 L204.23,221.28 L204.44,221.28 L204.65,221.27 L204.86,221.27 L205.08,221.28 L205.29,221.29 L205.51,221.31 L205.73,221.34 L205.95,221.37 L206.17,221.41 L206.39,221.45 L206.62,221.50 L206.84,221.55 L207.07,221.61 L207.30,221.67 L207.53,221.73 L207.76,221.80 L207.99,221.87 L208.22,221.94 L208.45,222.02 L208.68,222.09 L208.91,222.17M211.34,222.91 L211.57,222.96 L211.80,223.02 L212.03,223.06 L212.25,223.10 L212.48,223.14 L212.70,223.17 L212.93,223.19 L213.15,223.21 L213.37,223.22 L213.59,223.23 L213.81,223.22 L213.99,223.22M216.62,222.88 L216.83,222.84 L217.05,222.80 L217.26,222.76 L217.47,222.72 L217.69,222.69 L217.90,222.65 L218.12,222.62 L218.33,222.59 L218.55,222.56 L218.76,222.54 L218.97,222.52 L219.19,222.51 L219.41,222.50 L219.62,222.49 L219.84,222.49 L220.06,222.49 L220.27,222.50 L220.49,222.52 L220.71,222.54 L220.93,222.57 L221.14,222.60 L221.36,222.64 L221.58,222.67 L221.80,222.72 L222.02,222.76 L222.23,222.81 L222.45,222.86 L222.67,222.92 L222.89,222.97 L223.11,223.03 L223.33,223.09 L223.55,223.15 L223.69,223.19M226.11,223.80 L226.33,223.84 L226.55,223.88 L226.77,223.91 L226.99,223.94 L227.21,223.97 L227.43,223.99 L227.65,224.01 L227.87,224.02 L228.09,224.03 L228.31,224.04 L228.53,224.04 L228.76,224.04M231.36,223.86 L231.58,223.84 L231.81,223.82 L232.03,223.80 L232.25,223.78 L232.48,223.76 L232.70,223.74 L232.92,223.73 L233.14,223.71 L233.36,223.70 L233.58,223.69 L233.81,223.69 L234.03,223.68 L234.24,223.68 L234.46,223.68 L234.68,223.69 L234.90,223.70 L235.12,223.71 L235.33,223.73 L235.55,223.75 L235.76,223.78 L235.98,223.80 L236.19,223.83 L236.40,223.86 L236.62,223.90 L236.83,223.93 L237.04,223.97 L237.25,224.01 L237.46,224.05 L237.67,224.09 L237.88,224.13 L238.09,224.17 L238.30,224.22 L238.37,224.23M240.81,224.68 L241.02,224.71 L241.24,224.73 L241.46,224.76 L241.67,224.78 L241.89,224.79 L242.11,224.81 L242.31,224.82 L242.50,224.82 L242.68,224.83 L242.85,224.83 L243.01,224.83 L243.16,224.82 L243.31,224.82 L243.43,224.81M246.00,224.59 L246.26,224.58 L246.54,224.58 L246.84,224.57 L247.17,224.57 L247.51,224.57 L247.89,224.57 L248.29,224.57 L248.72,224.58 L249.18,224.59 L249.66,224.61 L250.15,224.62 L250.63,224.64 L251.10,224.66 L251.57,224.68 L252.03,224.71 L252.50,224.73 L252.97,224.76 L253.05,224.76M255.66,224.93 L256.22,224.96 L256.79,225.00 L257.40,225.04 L258.03,225.08 L258.25,225.09M260.89,225.24 L261.70,225.28 L262.55,225.32 L263.45,225.37 L264.40,225.41 L265.39,225.45 L266.44,225.50 L267.55,225.54 L267.93,225.56M270.58,225.66 L271.90,225.70 L273.05,225.74M276.04,225.83 L277.71,225.88 L279.52,225.93 L281.46,225.98 L282.81,226.02M285.66,226.09 L287.91,226.15M291.04,226.23 L293.48,226.29 L295.98,226.35 L297.68,226.39M300.70,226.46 L302.89,226.52M306.00,226.59 L308.68,226.65 L311.36,226.72 L312.71,226.75M315.40,226.81 L317.62,226.86M320.72,226.93 L323.33,226.99 L325.90,227.05 L327.59,227.09M330.47,227.16 L332.87,227.21M335.95,227.28 L338.15,227.33 L340.25,227.38 L342.24,227.42 L342.88,227.44M345.85,227.51 L347.45,227.54 L348.20,227.56M351.00,227.62 L352.09,227.65 L353.08,227.67 L353.97,227.69 L354.76,227.71 L355.47,227.72 L356.08,227.73 L356.62,227.74 L357.08,227.75 L357.47,227.76 L357.79,227.76 L357.97,227.76" stroke="#800080"/>
<path d="M25.20,113.20 C25.42,113.25 25.23,112.73 26.50,113.50 C27.77,114.27 30.92,115.72 32.80,117.80 C34.68,119.88 36.18,122.80 37.80,126.00 C39.42,129.20 40.88,132.83 42.50,137.00 C44.12,141.17 45.83,146.67 47.50,151.00 C49.17,155.33 50.92,159.50 52.50,163.00 C54.08,166.50 55.70,169.37 57.00,172.00 C58.30,174.63 59.13,176.55 60.30,178.80 C61.47,181.05 62.80,183.58 64.00,185.50 C65.20,187.42 66.33,188.92 67.50,190.30 C68.67,191.68 69.67,192.63 71.00,193.80 C72.33,194.97 73.67,196.47 75.50,197.30 C77.33,198.13 79.43,198.37 82.00,198.80 C84.57,199.23 88.40,199.57 90.90,199.90 C93.40,200.23 94.42,200.28 97.00,200.80 C99.58,201.32 103.63,202.40 106.40,203.00 C109.17,203.60 111.33,204.03 113.60,204.40 C115.87,204.77 117.60,204.98 120.00,205.20 C122.40,205.42 121.33,205.57 128.00,205.70 C134.67,205.83 148.00,205.93 160.00,206.00 C172.00,206.07 186.67,206.25 200.00,206.10 C213.33,205.95 227.50,205.38 240.00,205.10 C252.50,204.82 261.67,204.60 275.00,204.40 C288.33,204.20 307.50,204.02 320.00,203.90 C332.50,203.78 343.20,203.75 350.00,203.70 C356.80,203.65 359.00,203.62 360.80,203.60" stroke="#00aa00"/>
</g>
<g stroke="#000" stroke-width="1.8" fill="none">
<line x1="17.4" y1="234" x2="366.8" y2="234"/>
<line x1="24.55" y1="24.9" x2="24.55" y2="240.7"/>
<line x1="35.78" y1="234.00" x2="35.78" y2="231.20"/><line x1="46.95" y1="234.00" x2="46.95" y2="231.20"/><line x1="58.13" y1="234.00" x2="58.13" y2="231.20"/><line x1="69.30" y1="234.00" x2="69.30" y2="230.00"/><line x1="80.47" y1="234.00" x2="80.47" y2="231.20"/><line x1="91.65" y1="234.00" x2="91.65" y2="231.20"/><line x1="102.83" y1="234.00" x2="102.83" y2="231.20"/><line x1="114.00" y1="234.00" x2="114.00" y2="230.00"/><line x1="125.18" y1="234.00" x2="125.18" y2="231.20"/><line x1="136.35" y1="234.00" x2="136.35" y2="231.20"/><line x1="147.53" y1="234.00" x2="147.53" y2="231.20"/><line x1="158.70" y1="234.00" x2="158.70" y2="230.00"/><line x1="169.88" y1="234.00" x2="169.88" y2="231.20"/><line x1="181.05" y1="234.00" x2="181.05" y2="231.20"/><line x1="192.22" y1="234.00" x2="192.22" y2="231.20"/><line x1="203.40" y1="234.00" x2="203.40" y2="230.00"/><line x1="214.58" y1="234.00" x2="214.58" y2="231.20"/><line x1="225.75" y1="234.00" x2="225.75" y2="231.20"/><line x1="236.93" y1="234.00" x2="236.93" y2="231.20"/><line x1="248.10" y1="234.00" x2="248.10" y2="230.00"/><line x1="259.28" y1="234.00" x2="259.28" y2="231.20"/><line x1="270.45" y1="234.00" x2="270.45" y2="231.20"/><line x1="281.63" y1="234.00" x2="281.63" y2="231.20"/><line x1="292.80" y1="234.00" x2="292.80" y2="230.00"/><line x1="303.98" y1="234.00" x2="303.98" y2="231.20"/><line x1="315.15" y1="234.00" x2="315.15" y2="231.20"/><line x1="326.33" y1="234.00" x2="326.33" y2="231.20"/><line x1="337.50" y1="234.00" x2="337.50" y2="230.00"/><line x1="348.68" y1="234.00" x2="348.68" y2="231.20"/><line x1="359.85" y1="234.00" x2="359.85" y2="231.20"/><line x1="24.60" y1="221.86" x2="27.50" y2="221.86"/><line x1="24.60" y1="209.72" x2="27.50" y2="209.72"/><line x1="24.60" y1="197.58" x2="27.50" y2="197.58"/><line x1="24.60" y1="185.44" x2="27.50" y2="185.44"/><line x1="24.60" y1="173.30" x2="28.80" y2="173.30"/><line x1="24.60" y1="161.16" x2="27.50" y2="161.16"/><line x1="24.60" y1="149.02" x2="27.50" y2="149.02"/><line x1="24.60" y1="136.88" x2="27.50" y2="136.88"/><line x1="24.60" y1="124.74" x2="27.50" y2="124.74"/><line x1="24.60" y1="112.60" x2="28.80" y2="112.60"/><line x1="24.60" y1="100.46" x2="27.50" y2="100.46"/><line x1="24.60" y1="88.32" x2="27.50" y2="88.32"/><line x1="24.60" y1="76.18" x2="27.50" y2="76.18"/><line x1="24.60" y1="64.04" x2="27.50" y2="64.04"/><line x1="24.60" y1="51.90" x2="28.80" y2="51.90"/><line x1="24.60" y1="39.76" x2="27.50" y2="39.76"/><line x1="24.60" y1="27.62" x2="27.50" y2="27.62"/>
</g>
<g font-size="13.7px" fill="#000">
<text x="69.30" y="249" text-anchor="middle">2</text><text x="114.00" y="249" text-anchor="middle">4</text><text x="158.70" y="249" text-anchor="middle">6</text><text x="203.40" y="249" text-anchor="middle">8</text><text x="248.10" y="249" text-anchor="middle">10</text><text x="292.80" y="249" text-anchor="middle">12</text><text x="337.50" y="249" text-anchor="middle">14</text>
<text x="20.9" y="177.70" text-anchor="end">5</text><text x="20.9" y="117.00" text-anchor="end">10</text><text x="20.9" y="56.30" text-anchor="end">15</text>
</g>
<text transform="translate(19.6,13.7) scale(1.2,1)" x="0" y="0" font-size="14px" font-style="italic">w</text>
<path d="M18.3,6.1 L10.3,9.9 L18.3,13.7 M30.7,6.1 L38.7,9.9 L30.7,13.7" fill="none" stroke="#000" stroke-width="0.9"/>
<path d="M22.2,4.9 L24.6,2 L27,4.9" fill="none" stroke="#000" stroke-width="0.7"/>
<path d="M376.2,232.5 Q377.2,231.1 378.8,231.1 L383.5,230.9" fill="none" stroke="#000" stroke-width="1.25" stroke-linecap="round"/>
<path d="M380.1,231.2 C379.5,233.5 378.4,235.8 378.6,236.9 C378.8,237.9 379.6,238 380.3,237.2" fill="none" stroke="#000" stroke-width="1.3" stroke-linecap="round"/>
<rect x="272.5" y="75" width="81.1" height="91.5" fill="#fff" stroke="none"/>
<g stroke-width="1" fill="none"><path d="M272.5,74.5V167" stroke="#666"/><path d="M272,75H354.1" stroke="#666"/><path d="M353.6,74.5V167" stroke="#999"/><path d="M272,166.5H354.1" stroke="#808080"/></g>
<g stroke-width="2" fill="none">
<path d="M276.6,88H280.2M282.2,88H286.1" stroke="#0000ff"/>
<path d="M276.6,109.9H283.9M285.9,109.9H288.5" stroke="#ff0000"/>
<path d="M276.6,131.9H280M282.2,131.9H288.5" stroke="#800080"/>
<path d="M276.6,153.9H288.3" stroke="#00aa00"/>
</g>
<g font-size="13px" fill="#000">
<text x="304.1" y="92.7"><tspan font-style="italic">m</tspan><tspan font-size="9.5px" dy="2.6">lin</tspan><tspan dy="-2.6" dx="1.5" font-size="13.5px">(t)</tspan></text>
<text x="304.1" y="112.8"><tspan font-style="italic">m</tspan><tspan font-size="9.5px" dy="2.6">log</tspan><tspan dy="-2.6" dx="1.5" font-size="13.5px">(t)</tspan></text>
<text x="304.1" y="134.4"><tspan font-style="italic">m</tspan><tspan font-size="9.5px" dy="2.6">par</tspan><tspan dy="-2.6" dx="1.5" font-size="13.5px">(t)</tspan></text>
<text x="304.1" y="155.6"><tspan font-style="italic">m</tspan><tspan font-size="9.5px" dy="2.6">quart</tspan><tspan dy="-2.6" dx="1.5" font-size="13.5px">(t)</tspan></text>
</g>
</svg>
</body></html>
